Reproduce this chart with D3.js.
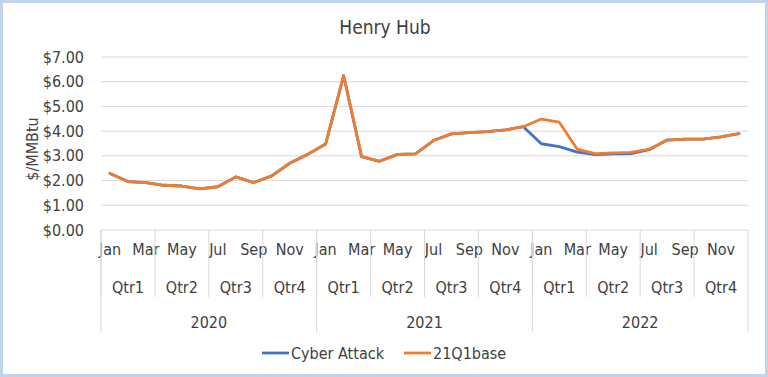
<!DOCTYPE html>
<html>
<head>
<meta charset="utf-8">
<script src="https://cdn.jsdelivr.net/npm/d3@7"></script>
<style>
	body { margin: 0; background: #fff; }
	svg text { font-family: "Liberation Sans Narrow", "DejaVu Sans Condensed", sans-serif; fill: #404040; }
</style>
</head>
<body>
<svg id="canvas" width="768" height="377"></svg>
<script>
var years = ["2020", "2021", "2022"];
var quarters = ["Qtr1", "Qtr2", "Qtr3", "Qtr4"];
var months = ["Jan", "Feb", "Mar", "Apr", "May", "Jun", "Jul", "Aug", "Sep", "Oct", "Nov", "Dec"];
var yTicks = [0, 1, 2, 3, 4, 5, 6, 7];

// monthly $/MMBtu, Jan 2020 - Dec 2022
var cyberAttack = [
	2.29, 1.96, 1.92, 1.81, 1.78, 1.66, 1.75, 2.15, 1.92, 2.19, 2.70, 3.06,
	3.48, 6.25, 2.97, 2.78, 3.06, 3.08, 3.62, 3.89, 3.94, 3.98, 4.05, 4.18,
	3.49, 3.37, 3.15, 3.05, 3.08, 3.09, 3.25, 3.64, 3.68, 3.68, 3.77, 3.90
];
var base21Q1 = [
	2.29, 1.96, 1.92, 1.81, 1.78, 1.66, 1.75, 2.15, 1.92, 2.19, 2.70, 3.06,
	3.48, 6.25, 2.97, 2.78, 3.06, 3.08, 3.62, 3.89, 3.94, 3.98, 4.05, 4.18,
	4.49, 4.36, 3.27, 3.09, 3.12, 3.14, 3.27, 3.64, 3.68, 3.68, 3.77, 3.90
];

var seriesNames = ["Cyber Attack", "21Q1base"];
var colors = ["#4472c4", "#ed7d31"];

var svg = d3.select("#canvas");

// chart border
svg.append("rect")
	.attr("x", 1.5).attr("y", 1.5)
	.attr("width", 765).attr("height", 374)
	.attr("fill", "#fff")
	.attr("stroke", "#c3d3ea")
	.attr("stroke-width", 3);

var plotLeft = 101, plotRight = 748, plotTop = 57, plotBottom = 230;

var keys = [];
years.forEach(function(yr) {
	months.forEach(function(m) { keys.push(yr + "-" + m); });
});

var x = d3.scaleBand().domain(keys).range([plotLeft, plotRight]);
var y = d3.scaleLinear().domain([0, 7]).range([plotBottom, plotTop]);

// title
svg.append("text")
	.attr("x", 385).attr("y", 34)
	.attr("text-anchor", "middle")
	.style("font-size", "19px")
	.text("Henry Hub");

// gridlines
svg.append("g")
	.selectAll("line")
	.data(yTicks)
	.enter().append("line")
	.attr("x1", plotLeft).attr("x2", plotRight)
	.attr("y1", function(d) { return y(d); })
	.attr("y2", function(d) { return y(d); })
	.attr("stroke", "#d9d9d9")
	.attr("stroke-width", 1);

// y axis labels
var yAxis = d3.axisLeft(y)
	.tickValues(yTicks)
	.tickSize(0)
	.tickPadding(17)
	.tickFormat(function(d) { return "$" + d3.format(".2f")(d); });

var ya = svg.append("g")
	.attr("transform", "translate(" + plotLeft + ",0)")
	.call(yAxis);
ya.select(".domain").remove();
ya.selectAll("text").style("font-size", "16px").attr("fill", "#404040");

svg.append("text")
	.attr("transform", "translate(38,149) rotate(-90)")
	.attr("text-anchor", "middle")
	.style("font-size", "16px")
	.text("$/MMBtu");

// month labels
var xAxis = d3.axisBottom(x)
	.tickSize(0)
	.tickPadding(14)
	.tickFormat(function(d, i) { return i % 2 === 0 ? d.split("-")[1] : ""; });

var xa = svg.append("g")
	.attr("transform", "translate(0," + plotBottom + ")")
	.call(xAxis);
xa.select(".domain").remove();
xa.selectAll("text").style("font-size", "16px").attr("fill", "#404040");

// quarter dividers and labels
var qStep = x.step() * 3;
var qData = [];
years.forEach(function(yr, yi) {
	quarters.forEach(function(q, qi) {
		qData.push({ label: q, x0: plotLeft + (yi * 4 + qi) * qStep });
	});
});

svg.append("g")
	.selectAll("line")
	.data(qData)
	.enter().append("line")
	.attr("x1", function(d) { return d.x0; })
	.attr("x2", function(d) { return d.x0; })
	.attr("y1", plotBottom).attr("y2", 297)
	.attr("stroke", "#d9d9d9");

svg.append("g")
	.selectAll("text")
	.data(qData)
	.enter().append("text")
	.attr("x", function(d) { return d.x0 + qStep / 2; })
	.attr("y", 293)
	.attr("text-anchor", "middle")
	.style("font-size", "16px")
	.text(function(d) { return d.label; });

// year dividers and labels
var yStep = x.step() * 12;
svg.append("g")
	.selectAll("line")
	.data(d3.range(years.length + 1))
	.enter().append("line")
	.attr("x1", function(d) { return plotLeft + d * yStep; })
	.attr("x2", function(d) { return plotLeft + d * yStep; })
	.attr("y1", plotBottom).attr("y2", 332)
	.attr("stroke", "#d9d9d9");

svg.append("g")
	.selectAll("text")
	.data(years)
	.enter().append("text")
	.attr("x", function(d, i) { return plotLeft + (i + 0.5) * yStep; })
	.attr("y", 328)
	.attr("text-anchor", "middle")
	.style("font-size", "16px")
	.text(function(d) { return d; });

// lines
var line = d3.line()
	.x(function(d, i) { return x(keys[i]) + x.bandwidth() / 2; })
	.y(function(d) { return y(d); });

[cyberAttack, base21Q1].forEach(function(s, i) {
	svg.append("path")
		.datum(s)
		.attr("d", line)
		.attr("fill", "none")
		.attr("stroke", colors[i])
		.attr("stroke-width", 2.8)
		.attr("stroke-linejoin", "round")
		.attr("stroke-linecap", "round");
});

// legend
var legendX = [262, 404];
var lg = svg.append("g")
	.selectAll("g")
	.data(seriesNames)
	.enter().append("g")
	.attr("transform", function(d, i) { return "translate(" + legendX[i] + ",353)"; });

lg.append("line")
	.attr("x1", 0).attr("x2", 27)
	.attr("stroke", function(d, i) { return colors[i]; })
	.attr("stroke-width", 2.8);

lg.append("text")
	.attr("x", 29).attr("y", 5.5)
	.style("font-size", "16px")
	.text(function(d) { return d; });
</script>
</body>
</html>
